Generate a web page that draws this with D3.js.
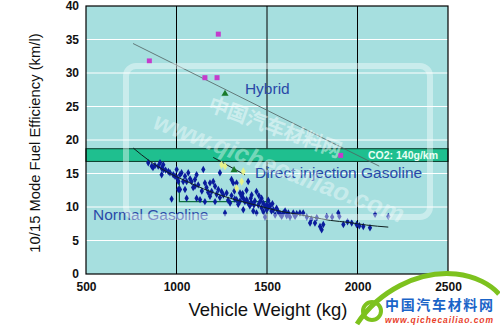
<!DOCTYPE html>
<html>
<head>
<meta charset="utf-8">
<script src="https://cdn.jsdelivr.net/npm/d3@7"></script>
<style>
  body { margin: 0; background: #fff; }
  svg { display: block; }
</style>
</head>
<body>
<svg id="chart" width="500" height="327"></svg>
<script>
// --- data ---
const xTicks = [500, 1000, 1500, 2000, 2500];
const yTicks = [0, 5, 10, 15, 20, 25, 30, 35, 40];

// Normal gasoline cars: [weight kg, km/l]
const normalPoints = [
  [844,16.6],[863,16.1],[870,15.9],[881,16.2],[899,16.1],[909,16.6],[918,15.8],[927,16.3],
  [927,15.6],[918,14.8],[940,15.5],[955,15.3],[964,15.1],[973,11.2],[982,14.8],[992,14.6],
  [1001,15.6],[1005,14.3],[1010,13.8],[1010,12.6],[1019,14.8],[1019,12.6],[1028,15.1],[1037,13.8],
  [1047,14.6],[1047,12.6],[1056,13.8],[1056,11.3],[1065,15.1],[1075,14.2],[1083,13.8],[1092,12.9],
  [1102,13.1],[1102,14.1],[1111,14.8],[1111,11.3],[1120,13.3],[1130,11.1],[1140,12.4],[1148,15.6],
  [1157,13.6],[1157,10.8],[1166,12.9],[1175,12.2],[1185,13.6],[1185,11.6],[1194,12.3],[1203,13.8],
  [1213,13.1],[1213,10.8],[1222,11.9],[1231,12.6],[1240,15.1],[1240,11.4],[1249,12.3],[1259,11.8],
  [1268,9.1],[1277,12.1],[1285,11.0],[1296,10.6],[1304,14.1],[1304,11.7],[1313,13.6],[1322,11.2],
  [1332,13.6],[1332,11.1],[1341,10.4],[1351,12.1],[1351,10.9],[1360,11.6],[1369,11.3],[1369,9.6],
  [1378,10.8],[1387,11.1],[1387,12.5],[1396,13.8],[1396,10.6],[1405,10.2],[1415,10.6],[1415,11.8],
  [1424,9.4],[1433,10.9],[1442,12.3],[1442,9.1],[1452,10.3],[1461,10.8],[1470,9.9],[1470,11.3],
  [1479,10.6],[1489,10.1],[1489,8.5],[1498,9.6],[1498,10.3],[1507,10.0],[1516,10.1],[1516,10.3],
  [1525,9.4],[1535,9.6],[1545,8.8],[1553,9.8],[1562,9.3],[1572,9.0],[1581,8.6],[1590,9.1],
  [1600,9.4],[1609,8.7],[1618,9.1],[1627,8.5],[1645,9.1],[1655,8.6],[1664,9.0],[1682,9.1],
  [1700,9.1],[1720,8.5],[1738,7.6],[1745,8.2],[1765,7.6],[1775,8.4],[1793,7.1],[1802,6.6],
  [1811,7.4],[1830,8.6],[1860,8.5],[1894,9.1],[1900,8.6],[1922,7.4],[1945,7.8],[1968,7.6],
  [1995,7.4],[2010,7.2],[2032,7.1],[2069,6.9],[2097,8.9],[2170,8.6],
  [1320,12.4],[1365,12.0],[1410,11.3],[1428,10.3],[1455,11.7],[1480,9.3],[1507,11.0],[1530,10.5]
];

// Hybrid cars
const hybridPoints = [[850,31.8],[1157,29.3],[1224,29.3],[1231,35.8],[1907,17.7]];

// Direct injection gasoline cars
const diTriangles = [[1268,26.9],[1318,15.5]];
const diLight = [[1249,16.3],[1268,16.1],[1369,15.3],[1360,13.8],[1332,12.8]];

// trend lines
const normalTrend = [
  [761,18.8],[850,16.9],[950,15.2],[1050,13.9],[1150,12.7],[1250,11.7],[1350,10.9],[1450,10.2],
  [1550,9.5],[1650,9.0],[1750,8.5],[1850,8.0],[1950,7.7],[2050,7.3],[2170,7.0]
];
const hybridTrend = [[760,34.4],[2120,16.1]];
const diTrend = [[1203,17.4],[1378,14.8]];
const standardStep = [[1016,14.1],[1016,10.8],[1516,10.8]];

// CO2 140 g/km band
const co2Band = [16.8, 18.7];

// series labels: [text, weight, km/l] of the text's start
const seriesLabels = [
  ['Hybrid', 1378, 26.85],
  ['Direct injection Gasoline', 1434, 14.3],
  ['Normal Gasoline', 539, 8.1]
];

// --- drawing ---
const svg = d3.select('#chart');
const plotLeft = 86, plotRight = 448, plotTop = 6, plotBottom = 274;
const font = 'Arial, "Liberation Sans", sans-serif';

const x = d3.scaleLinear().domain([500, 2500]).range([plotLeft, plotRight]);
const y = d3.scaleLinear().domain([0, 40]).range([plotBottom, plotTop]);

// plot background
svg.append('rect')
  .attr('x', plotLeft).attr('y', plotTop)
  .attr('width', plotRight - plotLeft).attr('height', plotBottom - plotTop)
  .attr('fill', '#a6dfdf');

// horizontal white grid
svg.append('g')
  .selectAll('line')
  .data(yTicks.filter(d => d > 0 && d < 40))
  .join('line')
  .attr('x1', plotLeft).attr('x2', plotRight)
  .attr('y1', d => y(d)).attr('y2', d => y(d))
  .attr('stroke', '#fff').attr('stroke-width', 1);

// vertical black grid
svg.append('g')
  .selectAll('line')
  .data(xTicks.filter(d => d > 500 && d < 2500))
  .join('line')
  .attr('x1', d => x(d)).attr('x2', d => x(d))
  .attr('y1', plotTop).attr('y2', plotBottom)
  .attr('stroke', '#000').attr('stroke-width', 1);

// CO2 band
svg.append('rect')
  .attr('x', plotLeft).attr('y', y(co2Band[1]))
  .attr('width', plotRight - plotLeft).attr('height', y(co2Band[0]) - y(co2Band[1]))
  .attr('fill', '#1fbf8f').attr('stroke', '#0a3a2a').attr('stroke-width', 1);

svg.append('text')
  .attr('x', 368).attr('y', y((co2Band[0] + co2Band[1]) / 2) + 3.8)
  .attr('font-family', font)
  .attr('font-size', 10.5).attr('font-weight', 'bold')
  .attr('fill', '#e8fff4')
  .text('CO2: 140g/km');

const line = d3.line().x(d => x(d[0])).y(d => y(d[1]));
const curve = d3.line().x(d => x(d[0])).y(d => y(d[1])).curve(d3.curveMonotoneX);

// standard step (dark green)
svg.append('path')
  .attr('d', line(standardStep))
  .attr('fill', 'none').attr('stroke', '#107040').attr('stroke-width', 1.2);

// normal gasoline points
svg.append('g')
  .selectAll('path')
  .data(normalPoints)
  .join('path')
  .attr('transform', d => `translate(${x(d[0])},${y(d[1])})`)
  .attr('d', d3.symbol(d3.symbolDiamond, 16))
  .attr('fill', '#0a1c9c');

// trend lines
svg.append('path')
  .attr('d', curve(normalTrend))
  .attr('fill', 'none').attr('stroke', '#102020').attr('stroke-width', 1);

svg.append('path')
  .attr('d', line(hybridTrend))
  .attr('fill', 'none').attr('stroke', '#506060').attr('stroke-width', 0.8);

svg.append('path')
  .attr('d', line(diTrend))
  .attr('fill', 'none').attr('stroke', '#102020').attr('stroke-width', 1);

// direct injection markers
svg.append('g')
  .selectAll('path')
  .data(diLight)
  .join('path')
  .attr('transform', d => `translate(${x(d[0])},${y(d[1])})`)
  .attr('d', d3.symbol(d3.symbolDiamond, 20))
  .attr('fill', '#e6f28a');

svg.append('g')
  .selectAll('path')
  .data(diTriangles)
  .join('path')
  .attr('transform', d => `translate(${x(d[0])},${y(d[1])})`)
  .attr('d', d3.symbol(d3.symbolTriangle, 22))
  .attr('fill', '#1a7a2a');

// hybrid markers
svg.append('g')
  .selectAll('rect')
  .data(hybridPoints)
  .join('rect')
  .attr('x', d => x(d[0]) - 2.5).attr('y', d => y(d[1]) - 2.5)
  .attr('width', 5).attr('height', 5)
  .attr('fill', '#c43ccc');

// series labels
svg.append('g')
  .selectAll('text')
  .data(seriesLabels)
  .join('text')
  .attr('x', d => x(d[1]))
  .attr('y', d => y(d[2]))
  .attr('font-family', font).attr('font-size', 15.5)
  .attr('fill', '#2a4aa8')
  .text(d => d[0]);

// plot border
svg.append('rect')
  .attr('x', plotLeft).attr('y', plotTop)
  .attr('width', plotRight - plotLeft).attr('height', plotBottom - plotTop)
  .attr('fill', 'none').attr('stroke', '#000').attr('stroke-width', 1.2);

// axes
const yAxis = svg.append('g')
  .attr('transform', `translate(${plotLeft},0)`)
  .call(d3.axisLeft(y).tickValues(yTicks).tickSize(0).tickPadding(7));
const xAxis = svg.append('g')
  .attr('transform', `translate(0,${plotBottom})`)
  .call(d3.axisBottom(x).tickValues(xTicks).tickSize(0).tickPadding(8).tickFormat(d3.format('d')));
[yAxis, xAxis].forEach(g => {
  g.select('.domain').remove();
  g.selectAll('text')
    .attr('font-family', font)
    .attr('font-size', 12).attr('font-weight', 'bold')
    .attr('fill', '#111');
});

svg.append('text')
  .attr('transform', 'translate(40,143) rotate(-90)')
  .attr('text-anchor', 'middle')
  .attr('font-family', font).attr('font-size', 14.8)
  .attr('fill', '#111')
  .text('10/15 Mode Fuel Efficiency (km/l)');

svg.append('text')
  .attr('x', 268).attr('y', 316)
  .attr('text-anchor', 'middle')
  .attr('font-family', font).attr('font-size', 18.5)
  .attr('fill', '#111')
  .text('Vehicle Weight (kg)');

// watermark overlay
const wm = svg.append('g').attr('pointer-events', 'none');
wm.append('rect')
  .attr('x', 126).attr('y', 66).attr('width', 304).attr('height', 151).attr('rx', 10)
  .attr('fill', 'none').attr('stroke', '#fff').attr('stroke-opacity', 0.4).attr('stroke-width', 6);
wm.append('text')
  .attr('transform', 'translate(207,110) rotate(20)')
  .attr('font-family', '"Noto Sans CJK SC", sans-serif').attr('font-size', 20).attr('font-weight', 'bold')
  .attr('fill', '#fff').attr('fill-opacity', 0.45)
  .text('中国汽车材料网');
wm.append('text')
  .attr('transform', 'translate(152,128) rotate(21)')
  .attr('font-family', font).attr('font-size', 25).attr('font-style', 'italic').attr('font-weight', 'bold')
  .attr('fill', '#fff').attr('fill-opacity', 0.4)
  .text('www.qichecailiao.com');

// logo at bottom right
const logo = svg.append('g');
logo.append('path')
  .attr('d', 'M357,324 C378,292 418,270 456,274 C476,276 491,285 499,294')
  .attr('fill', 'none').attr('stroke', '#7dc21e').attr('stroke-width', 5);
logo.append('circle')
  .attr('cx', 372).attr('cy', 311).attr('r', 9)
  .attr('fill', 'none').attr('stroke', '#7dc21e').attr('stroke-width', 4);
logo.append('text')
  .attr('x', 385).attr('y', 310)
  .attr('font-family', '"Noto Sans CJK SC", sans-serif').attr('font-size', 14).attr('font-weight', 'bold')
  .attr('fill', '#1a64c8')
  .attr('textLength', 108)
  .text('中国汽车材料网');
logo.append('text')
  .attr('x', 385).attr('y', 322.5)
  .attr('font-family', font).attr('font-size', 8.5).attr('font-weight', 'bold').attr('font-style', 'italic')
  .attr('fill', '#e8402a')
  .attr('textLength', 108)
  .text('www.qichecailiao.com');
</script>
</body>
</html>
